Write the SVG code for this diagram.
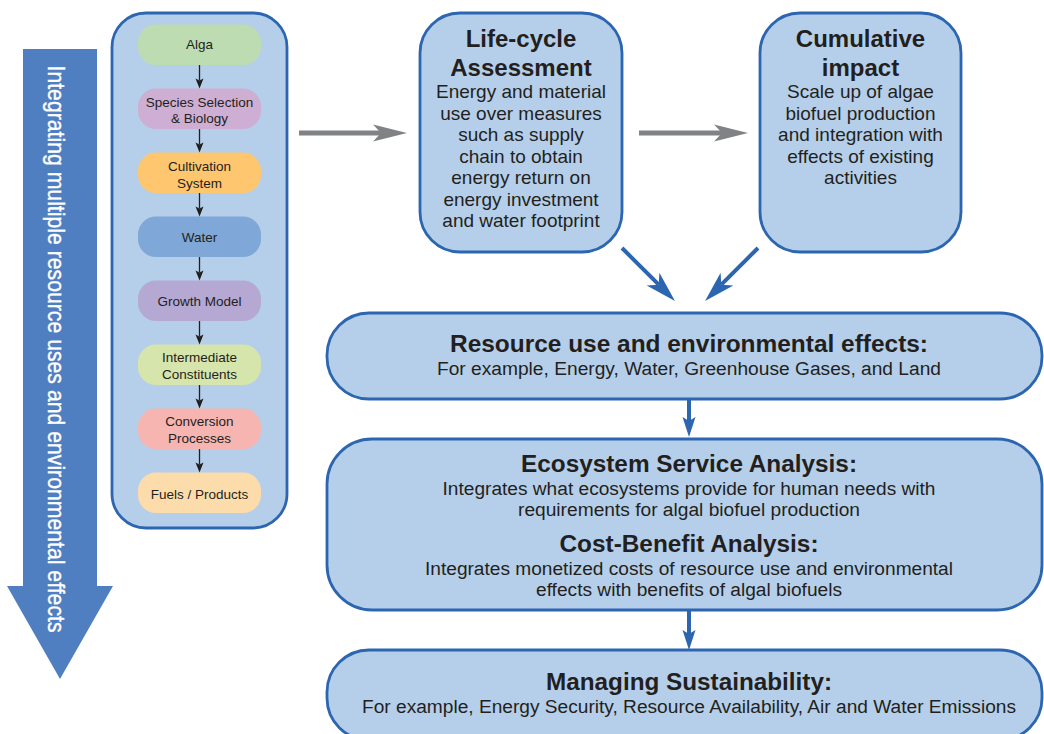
<svg xmlns="http://www.w3.org/2000/svg" width="1044" height="734" viewBox="0 0 1044 734">
<style>
  text { font-family: "Liberation Sans", Arial, Helvetica, sans-serif; fill: #231f20; text-anchor: middle; }
  .panel { fill: #b5cfea; stroke: #2c66b0; stroke-width: 2.8; }
  .inner { font-size: 13.5px; }
  .title { font-size: 24px; font-weight: bold; }
  .body { font-size: 19px; }
  .wtitle { font-size: 23px; font-weight: bold; }
  .wbody { font-size: 18px; }
  .gray { stroke: #808285; stroke-width: 5; fill: none; }
  .blue { stroke: #2c66b0; stroke-width: 4; fill: none; }
  .black { stroke: #231f20; stroke-width: 1.3; fill: none; }
</style>
<defs>
  <marker id="mGray" markerUnits="userSpaceOnUse" viewBox="-36 -10 40 20" markerWidth="40" markerHeight="20" refX="-26" refY="0" orient="auto">
    <path d="M0,0 L-34,-8.5 L-26,0 L-34,8.5 Z" fill="#808285"/>
  </marker>
  <marker id="mBlueL" markerUnits="userSpaceOnUse" viewBox="-32 -11 36 22" markerWidth="36" markerHeight="22" refX="-23" refY="0" orient="auto">
    <path d="M0,0 L-31,-9 L-23,0 L-31,9 Z" fill="#2c66b0"/>
  </marker>
  <marker id="mBlue" markerUnits="userSpaceOnUse" viewBox="-22 -8 26 16" markerWidth="26" markerHeight="16" refX="-16" refY="0" orient="auto">
    <path d="M0,0 L-20,-6.5 L-16,0 L-20,6.5 Z" fill="#2c66b0"/>
  </marker>
  <marker id="mBlack" markerUnits="userSpaceOnUse" viewBox="-12 -6 14 12" markerWidth="14" markerHeight="12" refX="-8" refY="0" orient="auto">
    <path d="M0,0 L-10,-4 L-8,0 L-10,4 Z" fill="#231f20"/>
  </marker>
</defs>

<!-- Big vertical arrow -->
<g id="side-arrow">
  <polygon points="23,49 97,49 97,586 113,586 60,679 7,586 23,586" fill="#4f7ec1"/>
  <text transform="translate(48,349) rotate(90)" x="0" y="0" style="fill:#ffffff;font-size:24px;stroke:#ffffff;stroke-width:0.4" textLength="567" lengthAdjust="spacingAndGlyphs">Integrating multiple resource uses and environmental effects</text>
</g>

<!-- Left panel -->
<g id="pathway-panel">
  <rect class="panel" x="112" y="13" width="175" height="515" rx="34"/>
</g>
<g id="alga">
  <rect x="138" y="24.5" width="123" height="40.5" rx="18" fill="#bddcb1"/>
  <text class="inner" x="199.5" y="49">Alga</text>
</g>
<g id="species">
  <rect x="138" y="88.5" width="123" height="40.5" rx="18" fill="#cfaed3"/>
  <text class="inner" x="199.5" y="106.5">Species Selection</text>
  <text class="inner" x="199.5" y="123">&amp; Biology</text>
</g>
<g id="cultivation">
  <rect x="138" y="152.5" width="123" height="40.5" rx="18" fill="#fec66f"/>
  <text class="inner" x="199.5" y="171">Cultivation</text>
  <text class="inner" x="199.5" y="187.5">System</text>
</g>
<g id="water">
  <rect x="138" y="216.5" width="123" height="40.5" rx="18" fill="#7fa7d8"/>
  <text class="inner" x="199.5" y="241.5">Water</text>
</g>
<g id="growth">
  <rect x="138" y="280.5" width="123" height="40.5" rx="18" fill="#b5a9d3"/>
  <text class="inner" x="199.5" y="306">Growth Model</text>
</g>
<g id="intermediate">
  <rect x="138" y="344.5" width="123" height="40.5" rx="18" fill="#d6e5ab"/>
  <text class="inner" x="199.5" y="362">Intermediate</text>
  <text class="inner" x="199.5" y="378.5">Constituents</text>
</g>
<g id="conversion">
  <rect x="138" y="408.5" width="123" height="40.5" rx="18" fill="#f6b5b0"/>
  <text class="inner" x="199.5" y="426">Conversion</text>
  <text class="inner" x="199.5" y="442.5">Processes</text>
</g>
<g id="fuels">
  <rect x="138" y="472.5" width="123" height="40.5" rx="18" fill="#fddcab"/>
  <text class="inner" x="199.5" y="498.5">Fuels / Products</text>
</g>

<!-- Life-cycle -->
<g id="lca">
  <rect class="panel" x="420" y="13" width="202" height="239" rx="40"/>
  <text class="title" x="521" y="47">Life-cycle</text>
  <text class="title" x="521" y="76">Assessment</text>
  <text class="body" x="521" y="98">Energy and material</text>
  <text class="body" x="521" y="119.5">use over measures</text>
  <text class="body" x="521" y="141">such as supply</text>
  <text class="body" x="521" y="162.5">chain to obtain</text>
  <text class="body" x="521" y="184">energy return on</text>
  <text class="body" x="521" y="205.5">energy investment</text>
  <text class="body" x="521" y="227">and water footprint</text>
</g>

<!-- Cumulative impact -->
<g id="cumulative">
  <rect class="panel" x="760" y="13" width="201" height="239" rx="40"/>
  <text class="title" x="860.5" y="47">Cumulative</text>
  <text class="title" x="860.5" y="76">impact</text>
  <text class="body" x="860.5" y="98">Scale up of algae</text>
  <text class="body" x="860.5" y="119.5">biofuel production</text>
  <text class="body" x="860.5" y="141">and integration with</text>
  <text class="body" x="860.5" y="162.5">effects of existing</text>
  <text class="body" x="860.5" y="184">activities</text>
</g>

<!-- Resource use -->
<g id="resource">
  <rect class="panel" x="327" y="313" width="715" height="86" rx="42"/>
  <text class="wtitle" x="689" y="352" textLength="478" lengthAdjust="spacingAndGlyphs">Resource use and environmental effects:</text>
  <text class="wbody" x="689" y="375" textLength="504" lengthAdjust="spacingAndGlyphs">For example, Energy, Water, Greenhouse Gases, and Land</text>
</g>

<!-- Ecosystem / Cost-benefit -->
<g id="ecosystem">
  <rect class="panel" x="327" y="439" width="715" height="171" rx="45"/>
  <text class="wtitle" x="689" y="472" textLength="336" lengthAdjust="spacingAndGlyphs">Ecosystem Service Analysis:</text>
  <text class="wbody" x="689" y="495" textLength="493" lengthAdjust="spacingAndGlyphs">Integrates what ecosystems provide for human needs with</text>
  <text class="wbody" x="689" y="516" textLength="342" lengthAdjust="spacingAndGlyphs">requirements for algal biofuel production</text>
  <text class="wtitle" x="689" y="552" textLength="259" lengthAdjust="spacingAndGlyphs">Cost-Benefit Analysis:</text>
  <text class="wbody" x="689" y="575" textLength="528" lengthAdjust="spacingAndGlyphs">Integrates monetized costs of resource use and environmental</text>
  <text class="wbody" x="689" y="596" textLength="306" lengthAdjust="spacingAndGlyphs">effects with benefits of algal biofuels</text>
</g>

<!-- Managing Sustainability -->
<g id="managing">
  <rect class="panel" x="327" y="650" width="715" height="90" rx="42"/>
  <text class="wtitle" x="689" y="690" textLength="286" lengthAdjust="spacingAndGlyphs">Managing Sustainability:</text>
  <text class="wbody" x="689" y="713" textLength="654" lengthAdjust="spacingAndGlyphs">For example, Energy Security, Resource Availability, Air and Water Emissions</text>
</g>

<!-- Connectors -->
<g id="connectors">
  <line class="black" x1="199.5" y1="65" x2="199.5" y2="80.5" marker-end="url(#mBlack)"/>
  <line class="black" x1="199.5" y1="129" x2="199.5" y2="144.5" marker-end="url(#mBlack)"/>
  <line class="black" x1="199.5" y1="193" x2="199.5" y2="208.5" marker-end="url(#mBlack)"/>
  <line class="black" x1="199.5" y1="257" x2="199.5" y2="272.5" marker-end="url(#mBlack)"/>
  <line class="black" x1="199.5" y1="321" x2="199.5" y2="336.5" marker-end="url(#mBlack)"/>
  <line class="black" x1="199.5" y1="385" x2="199.5" y2="400.5" marker-end="url(#mBlack)"/>
  <line class="black" x1="199.5" y1="449" x2="199.5" y2="464.5" marker-end="url(#mBlack)"/>

  <line class="gray" x1="299" y1="133" x2="381" y2="133" marker-end="url(#mGray)"/>
  <line class="gray" x1="639" y1="133" x2="722" y2="133" marker-end="url(#mGray)"/>

  <line class="blue" x1="622" y1="248" x2="658.7" y2="284.7" marker-end="url(#mBlueL)"/>
  <line class="blue" x1="758" y1="248" x2="721.3" y2="284.7" marker-end="url(#mBlueL)"/>

  <line class="blue" x1="689" y1="399" x2="689" y2="421" marker-end="url(#mBlue)"/>
  <line class="blue" x1="689" y1="610" x2="689" y2="634" marker-end="url(#mBlue)"/>
</g>
</svg>
